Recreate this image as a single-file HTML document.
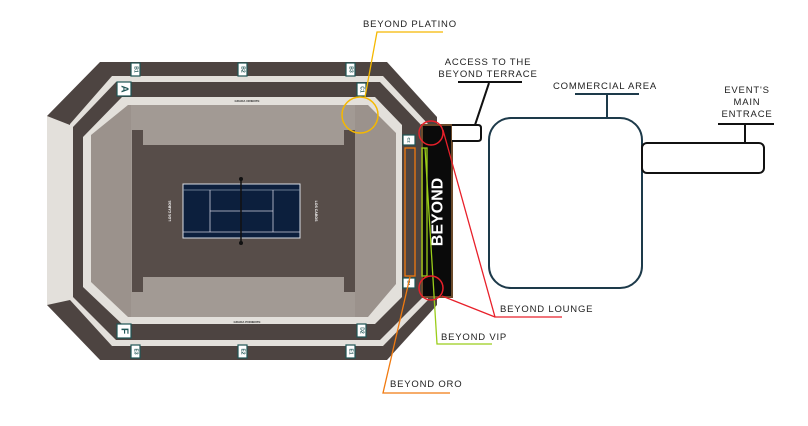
<!DOCTYPE html>
<html><head><meta charset="utf-8"><style>
html,body{margin:0;padding:0;background:#fff;width:808px;height:426px;overflow:hidden}
svg{display:block}
text{font-family:"Liberation Sans",sans-serif}
.lbl{font-size:9.5px;letter-spacing:0.8px;fill:#222}
</style></head><body>
<svg width="808" height="426" viewBox="0 0 808 426" xmlns="http://www.w3.org/2000/svg">
<polygon points="100,62 387,62 437,117 437,305 387,360 100,360 47,305 47,116" fill="#4d4441"/>
<polygon points="47,116 70,125 70,300 47,305" fill="#e3e0db"/>
<polygon points="112,76 383,76 428,124 428,300 383,346 112,346 70,300 70,124" fill="#e3e0db"/>
<polygon points="116,82 380,82 423,127 423,297 380,340 116,340 73,297 73,127" fill="#4d4441"/>
<polygon points="122,97 375,97 402,125 402,297 375,324 122,324 83,287 83,137" fill="#e3e0db"/>
<polygon points="128,105 368,105 396,133 396,284 368,317 128,317 91,282 91,135" fill="#9b928c"/>
<rect x="131" y="105" width="224" height="212" fill="#a29a94"/>
<rect x="132" y="145" width="223" height="132" fill="#574d49"/>
<rect x="132" y="130" width="11" height="162" fill="#574d49"/>
<rect x="344" y="130" width="11" height="162" fill="#574d49"/>
<rect x="183" y="184" width="117" height="54" fill="#0c1f3d" stroke="#d8dde5" stroke-width="1"/>
<line x1="183" y1="190" x2="300" y2="190" stroke="#8899aa" stroke-width="0.8"/>
<line x1="183" y1="232" x2="300" y2="232" stroke="#ccd" stroke-width="0.8"/>
<line x1="210" y1="190" x2="210" y2="232" stroke="#ccd" stroke-width="0.8"/>
<line x1="273" y1="190" x2="273" y2="232" stroke="#ccd" stroke-width="0.8"/>
<line x1="210" y1="211" x2="273" y2="211" stroke="#ccd" stroke-width="0.8"/>
<line x1="241" y1="179" x2="241" y2="243" stroke="#111" stroke-width="1.5"/>
<circle cx="241" cy="179" r="2" fill="#111"/><circle cx="241" cy="243" r="2" fill="#111"/>
<text font-size="3.5" fill="#fff" font-weight="bold" transform="translate(170,211) rotate(-90)" text-anchor="middle" dominant-baseline="central">LOS CABOS</text>
<text font-size="3.5" fill="#fff" font-weight="bold" transform="translate(316,211) rotate(90)" text-anchor="middle" dominant-baseline="central">LOS CABOS</text>
<text x="247" y="102" font-size="3" fill="#333" font-weight="bold" text-anchor="middle">GRADA ORIENTE</text>
<text x="247" y="323" font-size="3" fill="#333" font-weight="bold" text-anchor="middle">GRADA PONIENTE</text>
<g fill="#fff" stroke="#1f5555" stroke-width="1.2">
<rect x="131" y="63" width="9" height="13"/><rect x="238" y="63" width="9" height="13"/><rect x="346" y="63" width="9" height="13"/>
<rect x="117" y="82" width="14" height="14"/><rect x="357" y="83" width="9" height="13"/>
<rect x="403" y="135" width="12" height="10"/><rect x="403" y="278" width="12" height="10"/>
<rect x="117" y="324" width="14" height="14"/><rect x="357" y="324" width="9" height="13"/>
<rect x="131" y="345" width="9" height="13"/><rect x="238" y="345" width="9" height="13"/><rect x="346" y="345" width="9" height="13"/>
</g>
<g fill="#1f5555" font-size="5" font-weight="bold" text-anchor="middle" dominant-baseline="central">
<text transform="translate(135.5,69.5) rotate(90)">B1</text>
<text transform="translate(242.5,69.5) rotate(90)">B2</text>
<text transform="translate(350.5,69.5) rotate(90)">B3</text>
<text transform="translate(361.5,89.5) rotate(90)">C1</text>
<text transform="translate(409,140) rotate(90)" font-size="4">C2</text>
<text transform="translate(409,283) rotate(90)" font-size="4">D1</text>
<text transform="translate(361.5,330.5) rotate(90)">D2</text>
<text transform="translate(135.5,351.5) rotate(90)">E3</text>
<text transform="translate(242.5,351.5) rotate(90)">E2</text>
<text transform="translate(350.5,351.5) rotate(90)">E1</text>
<text transform="translate(124,89) rotate(90)" font-size="10">A</text>
<text transform="translate(124,331) rotate(90)" font-size="10">F</text>
</g>
<rect x="422" y="125" width="30" height="172" fill="#0a0a0a" stroke="#6b4a2a" stroke-width="2"/>
<text transform="translate(438,212) rotate(-90)" font-size="16" font-weight="bold" fill="#fff" text-anchor="middle" dominant-baseline="central">BEYOND</text>
<rect x="405" y="148" width="10" height="128" fill="#4d4441" stroke="#f07a10" stroke-width="1.3"/>
<polyline points="410,277 383,393 450,393" fill="none" stroke="#f07a10" stroke-width="1.3"/>
<text x="390" y="387" class="lbl">BEYOND ORO</text>
<rect x="422" y="148" width="5" height="128" fill="none" stroke="#9acd1a" stroke-width="1.3"/>
<polyline points="425,148 437,344 492,344" fill="none" stroke="#9acd1a" stroke-width="1.3"/>
<text x="441" y="340" class="lbl">BEYOND VIP</text>
<circle cx="431" cy="133" r="12" fill="none" stroke="#e8202a" stroke-width="1.5"/>
<circle cx="431" cy="288" r="12" fill="none" stroke="#e8202a" stroke-width="1.5"/>
<polyline points="443,130 495,317 562,317" fill="none" stroke="#e8202a" stroke-width="1.3"/>
<line x1="442" y1="296" x2="495" y2="317" stroke="#e8202a" stroke-width="1.3"/>
<text x="500" y="312" class="lbl">BEYOND LOUNGE</text>
<circle cx="360" cy="115" r="18" fill="none" stroke="#f5b800" stroke-width="1.5"/>
<polyline points="365,97 377,32 443,32" fill="none" stroke="#f5b800" stroke-width="1.3"/>
<text x="363" y="27" class="lbl">BEYOND PLATINO</text>
<path d="M452,125 H478 Q481,125 481,128 V138 Q481,141 478,141 H452" fill="#fff" stroke="#111" stroke-width="2"/>
<line x1="489" y1="83" x2="475" y2="125" stroke="#111" stroke-width="2"/>
<line x1="458" y1="82" x2="522" y2="82" stroke="#111" stroke-width="2"/>
<text x="488" y="65" class="lbl" text-anchor="middle">ACCESS TO THE</text>
<text x="488" y="77" class="lbl" text-anchor="middle">BEYOND TERRACE</text>
<rect x="489" y="118" width="153" height="170" rx="22" fill="#fff" stroke="#1d3a4a" stroke-width="2"/>
<line x1="575" y1="94" x2="639" y2="94" stroke="#1d3a4a" stroke-width="2"/>
<line x1="607" y1="94" x2="607" y2="118" stroke="#1d3a4a" stroke-width="2"/>
<text x="605" y="89" class="lbl" text-anchor="middle">COMMERCIAL AREA</text>
<rect x="642" y="143" width="122" height="30" rx="5" fill="#fff" stroke="#111" stroke-width="2"/>
<line x1="718" y1="124" x2="774" y2="124" stroke="#111" stroke-width="2"/>
<line x1="745" y1="124" x2="745" y2="143" stroke="#111" stroke-width="2"/>
<text x="747" y="93" class="lbl" text-anchor="middle">EVENT'S</text>
<text x="747" y="105" class="lbl" text-anchor="middle">MAIN</text>
<text x="747" y="117" class="lbl" text-anchor="middle">ENTRACE</text>
</svg>
</body></html>
